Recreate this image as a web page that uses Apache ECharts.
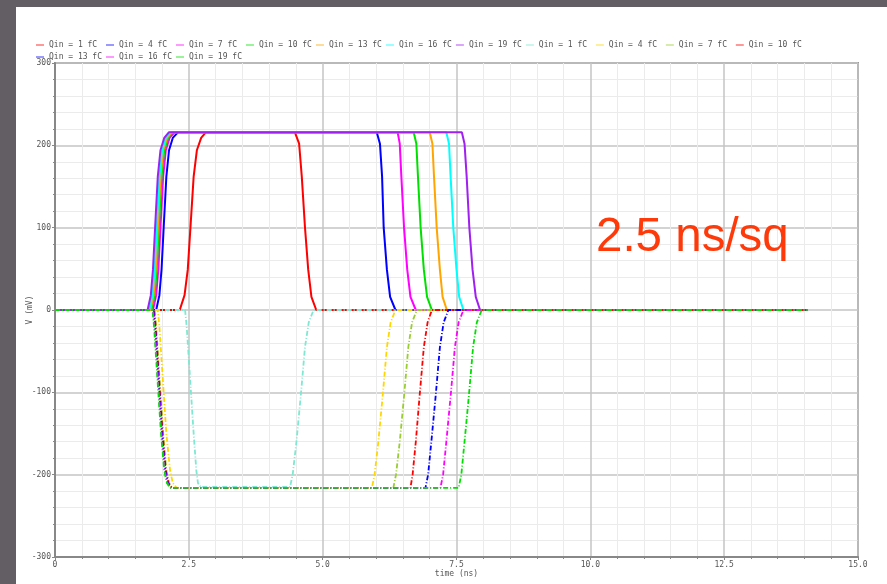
<!DOCTYPE html>
<html>
<head>
<meta charset="utf-8">
<script src="https://cdn.jsdelivr.net/npm/echarts@6/dist/echarts.min.js"></script>
<style>
html,body{margin:0;padding:0;background:#fff;}
#chart{width:887px;height:584px;}
</style>
</head>
<body>
<div id="chart"></div>
<script>
// ---- Data (time in ns, voltage in mV) ----
const xTickLabels = ['0', '2.5', '5.0', '7.5', '10.0', '12.5', '15.0'];
const yTickLabels = ['-300', '-200', '-100', '0', '100', '200', '300'];

const seriesNames = ['Qin = 1 fC', 'Qin = 4 fC', 'Qin = 7 fC', 'Qin = 10 fC', 'Qin = 13 fC', 'Qin = 16 fC', 'Qin = 19 fC'];

// positive (solid) pulses
const pos1 = [[0,0],[2.33,0],[2.42,18],[2.48,49],[2.53,100],[2.59,162],[2.65,194],[2.73,209],[2.82,216],[4.48,216],[4.56,202],[4.61,162],[4.67,100],[4.73,49],[4.79,16],[4.88,0],[14.05,0]];
const pos4 = [[0,0],[1.89,0],[1.95,18],[1.99,49],[2.03,100],[2.08,162],[2.13,194],[2.20,209],[2.30,216],[6.01,216],[6.07,202],[6.11,162],[6.14,100],[6.20,49],[6.26,16],[6.36,0],[14.05,0]];
const pos7 = [[0,0],[1.83,0],[1.89,18],[1.93,49],[1.97,100],[2.02,162],[2.07,194],[2.14,209],[2.24,216],[6.40,216],[6.44,202],[6.47,162],[6.52,100],[6.58,49],[6.64,16],[6.74,0],[14.05,0]];
const pos10 = [[0,0],[1.80,0],[1.86,18],[1.90,49],[1.94,100],[1.99,162],[2.04,194],[2.11,209],[2.20,216],[6.70,216],[6.75,202],[6.78,162],[6.83,100],[6.89,49],[6.95,16],[7.04,0],[14.05,0]];
const pos13 = [[0,0],[1.78,0],[1.84,18],[1.88,49],[1.92,100],[1.97,162],[2.02,194],[2.09,209],[2.18,216],[7.00,216],[7.05,202],[7.08,162],[7.13,100],[7.19,49],[7.24,16],[7.32,0],[14.05,0]];
const pos16 = [[0,0],[1.76,0],[1.82,18],[1.86,49],[1.90,100],[1.95,162],[2.00,194],[2.07,209],[2.16,216],[7.31,216],[7.36,202],[7.39,162],[7.44,100],[7.50,49],[7.55,16],[7.63,0],[14.05,0]];
const pos19 = [[0,0],[1.73,0],[1.79,18],[1.83,49],[1.87,100],[1.92,162],[1.97,194],[2.04,209],[2.13,216],[7.60,216],[7.65,202],[7.69,162],[7.74,100],[7.80,49],[7.86,16],[7.94,0],[14.05,0]];

// negative (dash-dot) pulses
const neg1 = [[0,0],[2.43,0],[2.46,-20],[2.52,-80],[2.59,-150],[2.64,-195],[2.67,-210],[2.72,-215],[4.39,-215],[4.44,-200],[4.51,-160],[4.59,-105],[4.67,-45],[4.74,-15],[4.83,0],[14.05,0]];
const neg4 = [[0,0],[1.92,0],[1.95,-20],[2.01,-80],[2.08,-150],[2.15,-195],[2.20,-210],[2.27,-216],[5.92,-216],[5.97,-200],[6.04,-160],[6.12,-105],[6.20,-45],[6.27,-15],[6.36,0],[14.05,0]];
const neg7 = [[0,0],[1.86,0],[1.89,-20],[1.95,-80],[2.02,-150],[2.08,-195],[2.13,-210],[2.19,-216],[6.32,-216],[6.37,-200],[6.44,-160],[6.52,-105],[6.60,-45],[6.67,-15],[6.76,0],[14.05,0]];
const neg10 = [[0,0],[1.85,0],[1.88,-20],[1.94,-80],[2.01,-150],[2.07,-195],[2.12,-210],[2.18,-216],[6.64,-216],[6.68,-200],[6.74,-160],[6.81,-105],[6.89,-45],[6.96,-15],[7.04,0],[14.05,0]];
const neg13 = [[0,0],[1.84,0],[1.87,-20],[1.93,-80],[2.00,-150],[2.06,-195],[2.11,-210],[2.17,-216],[6.92,-216],[6.97,-200],[7.03,-160],[7.11,-105],[7.19,-45],[7.26,-15],[7.35,0],[14.05,0]];
const neg16 = [[0,0],[1.83,0],[1.86,-20],[1.92,-80],[1.99,-150],[2.05,-195],[2.10,-210],[2.16,-216],[7.20,-216],[7.25,-200],[7.31,-160],[7.39,-105],[7.47,-45],[7.54,-15],[7.63,0],[14.05,0]];
const neg19 = [[0,0],[1.82,0],[1.85,-20],[1.91,-80],[1.98,-150],[2.04,-195],[2.09,-210],[2.15,-216],[7.54,-216],[7.59,-200],[7.65,-160],[7.73,-105],[7.81,-45],[7.88,-15],[7.97,0],[14.05,0]];

const posData = [pos1, pos4, pos7, pos10, pos13, pos16, pos19];
const negData = [neg1, neg4, neg7, neg10, neg13, neg16, neg19];
const posColors = ['#ff0000', '#0000ff', '#ff00ff', '#00e000', '#ffa500', '#00ffff', '#a020f0'];
const negColors = ['#7fe8d0', '#ffd700', '#9acd32', '#ff0000', '#0000ff', '#ff00ff', '#00e000'];

const monoFont = '"DejaVu Sans Mono", monospace';

const series = [];
posData.forEach(function (d, i) {
  series.push({
    name: seriesNames[i],
    type: 'line',
    data: d,
    symbol: 'none',
    color: posColors[i],
    lineStyle: { width: 2, color: posColors[i] },
    z: 2
  });
});
negData.forEach(function (d, i) {
  series.push({
    name: seriesNames[i] + ' ',
    type: 'line',
    data: d,
    symbol: 'none',
    color: negColors[i],
    lineStyle: { width: 1.8, color: negColors[i], type: [5, 2, 1, 2] },
    z: 3
  });
});

const chart = echarts.init(document.getElementById('chart'), null, { renderer: 'canvas' });
chart.setOption({
  animation: false,
  backgroundColor: '#ffffff',
  graphic: [
    { type: 'rect', left: 0, top: 0, shape: { width: 887, height: 7 }, style: { fill: '#625e64' }, z: 100 },
    { type: 'rect', left: 0, top: 0, shape: { width: 16, height: 584 }, style: { fill: '#625e64' }, z: 100 },
    { type: 'text', left: 596, top: 214, z: 100,
      style: { text: '2.5 ns/sq', font: '47.5px "Liberation Sans", Arial, sans-serif', fill: '#ff3a0a' } }
  ],
  legend: {
    type: 'plain',
    left: 31,
    top: 36,
    width: 790,
    itemWidth: 8,
    itemHeight: 2,
    itemGap: 4,
    icon: 'rect',
    itemStyle: { opacity: 0.4 },
    formatter: function (name) { return name.trim().padEnd(11, '\u00a0'); },
    textStyle: { fontFamily: monoFont, fontSize: 8, color: '#555' }
  },
  grid: {
    left: 55, right: 29, top: 63, bottom: 27,
    show: true, borderColor: '#999', borderWidth: 2, backgroundColor: 'transparent'
  },
  xAxis: {
    type: 'value',
    min: 0, max: 15, interval: 2.5,
    name: 'time (ns)',
    nameLocation: 'middle',
    nameGap: 13,
    nameMoveOverlap: false,
    nameTextStyle: { fontFamily: monoFont, fontSize: 8, color: '#555' },
    axisLine: { onZero: false, lineStyle: { color: '#888', width: 2 } },
    axisTick: { show: true, length: 3, lineStyle: { color: '#888' } },
    minorTick: { show: true, splitNumber: 5, length: 2, lineStyle: { color: '#888' } },
    axisLabel: {
      margin: 4, fontFamily: monoFont, fontSize: 8, color: '#555',
      formatter: function (v) { return xTickLabels[Math.round(v / 2.5)]; }
    },
    splitLine: { show: true, lineStyle: { color: '#c4c4c4', width: 1.5 } },
    minorSplitLine: { show: true, lineStyle: { color: '#ebebeb', width: 1 } }
  },
  yAxis: {
    type: 'value',
    min: -300, max: 300, interval: 100,
    name: 'V (mV)',
    nameLocation: 'middle',
    nameGap: 21,
    nameMoveOverlap: false,
    nameTextStyle: { fontFamily: monoFont, fontSize: 8, color: '#555' },
    axisLine: { onZero: false, lineStyle: { color: '#888', width: 2 } },
    axisTick: { show: true, length: 3, lineStyle: { color: '#888' } },
    minorTick: { show: true, splitNumber: 5, length: 2, lineStyle: { color: '#888' } },
    axisLabel: {
      margin: 4, fontFamily: monoFont, fontSize: 8, color: '#555',
      formatter: function (v) { return yTickLabels[Math.round((v + 300) / 100)]; }
    },
    splitLine: { show: true, lineStyle: { color: '#c4c4c4', width: 1.5 } },
    minorSplitLine: { show: true, lineStyle: { color: '#ebebeb', width: 1 } }
  },
  series: series
});
</script>
</body>
</html>
